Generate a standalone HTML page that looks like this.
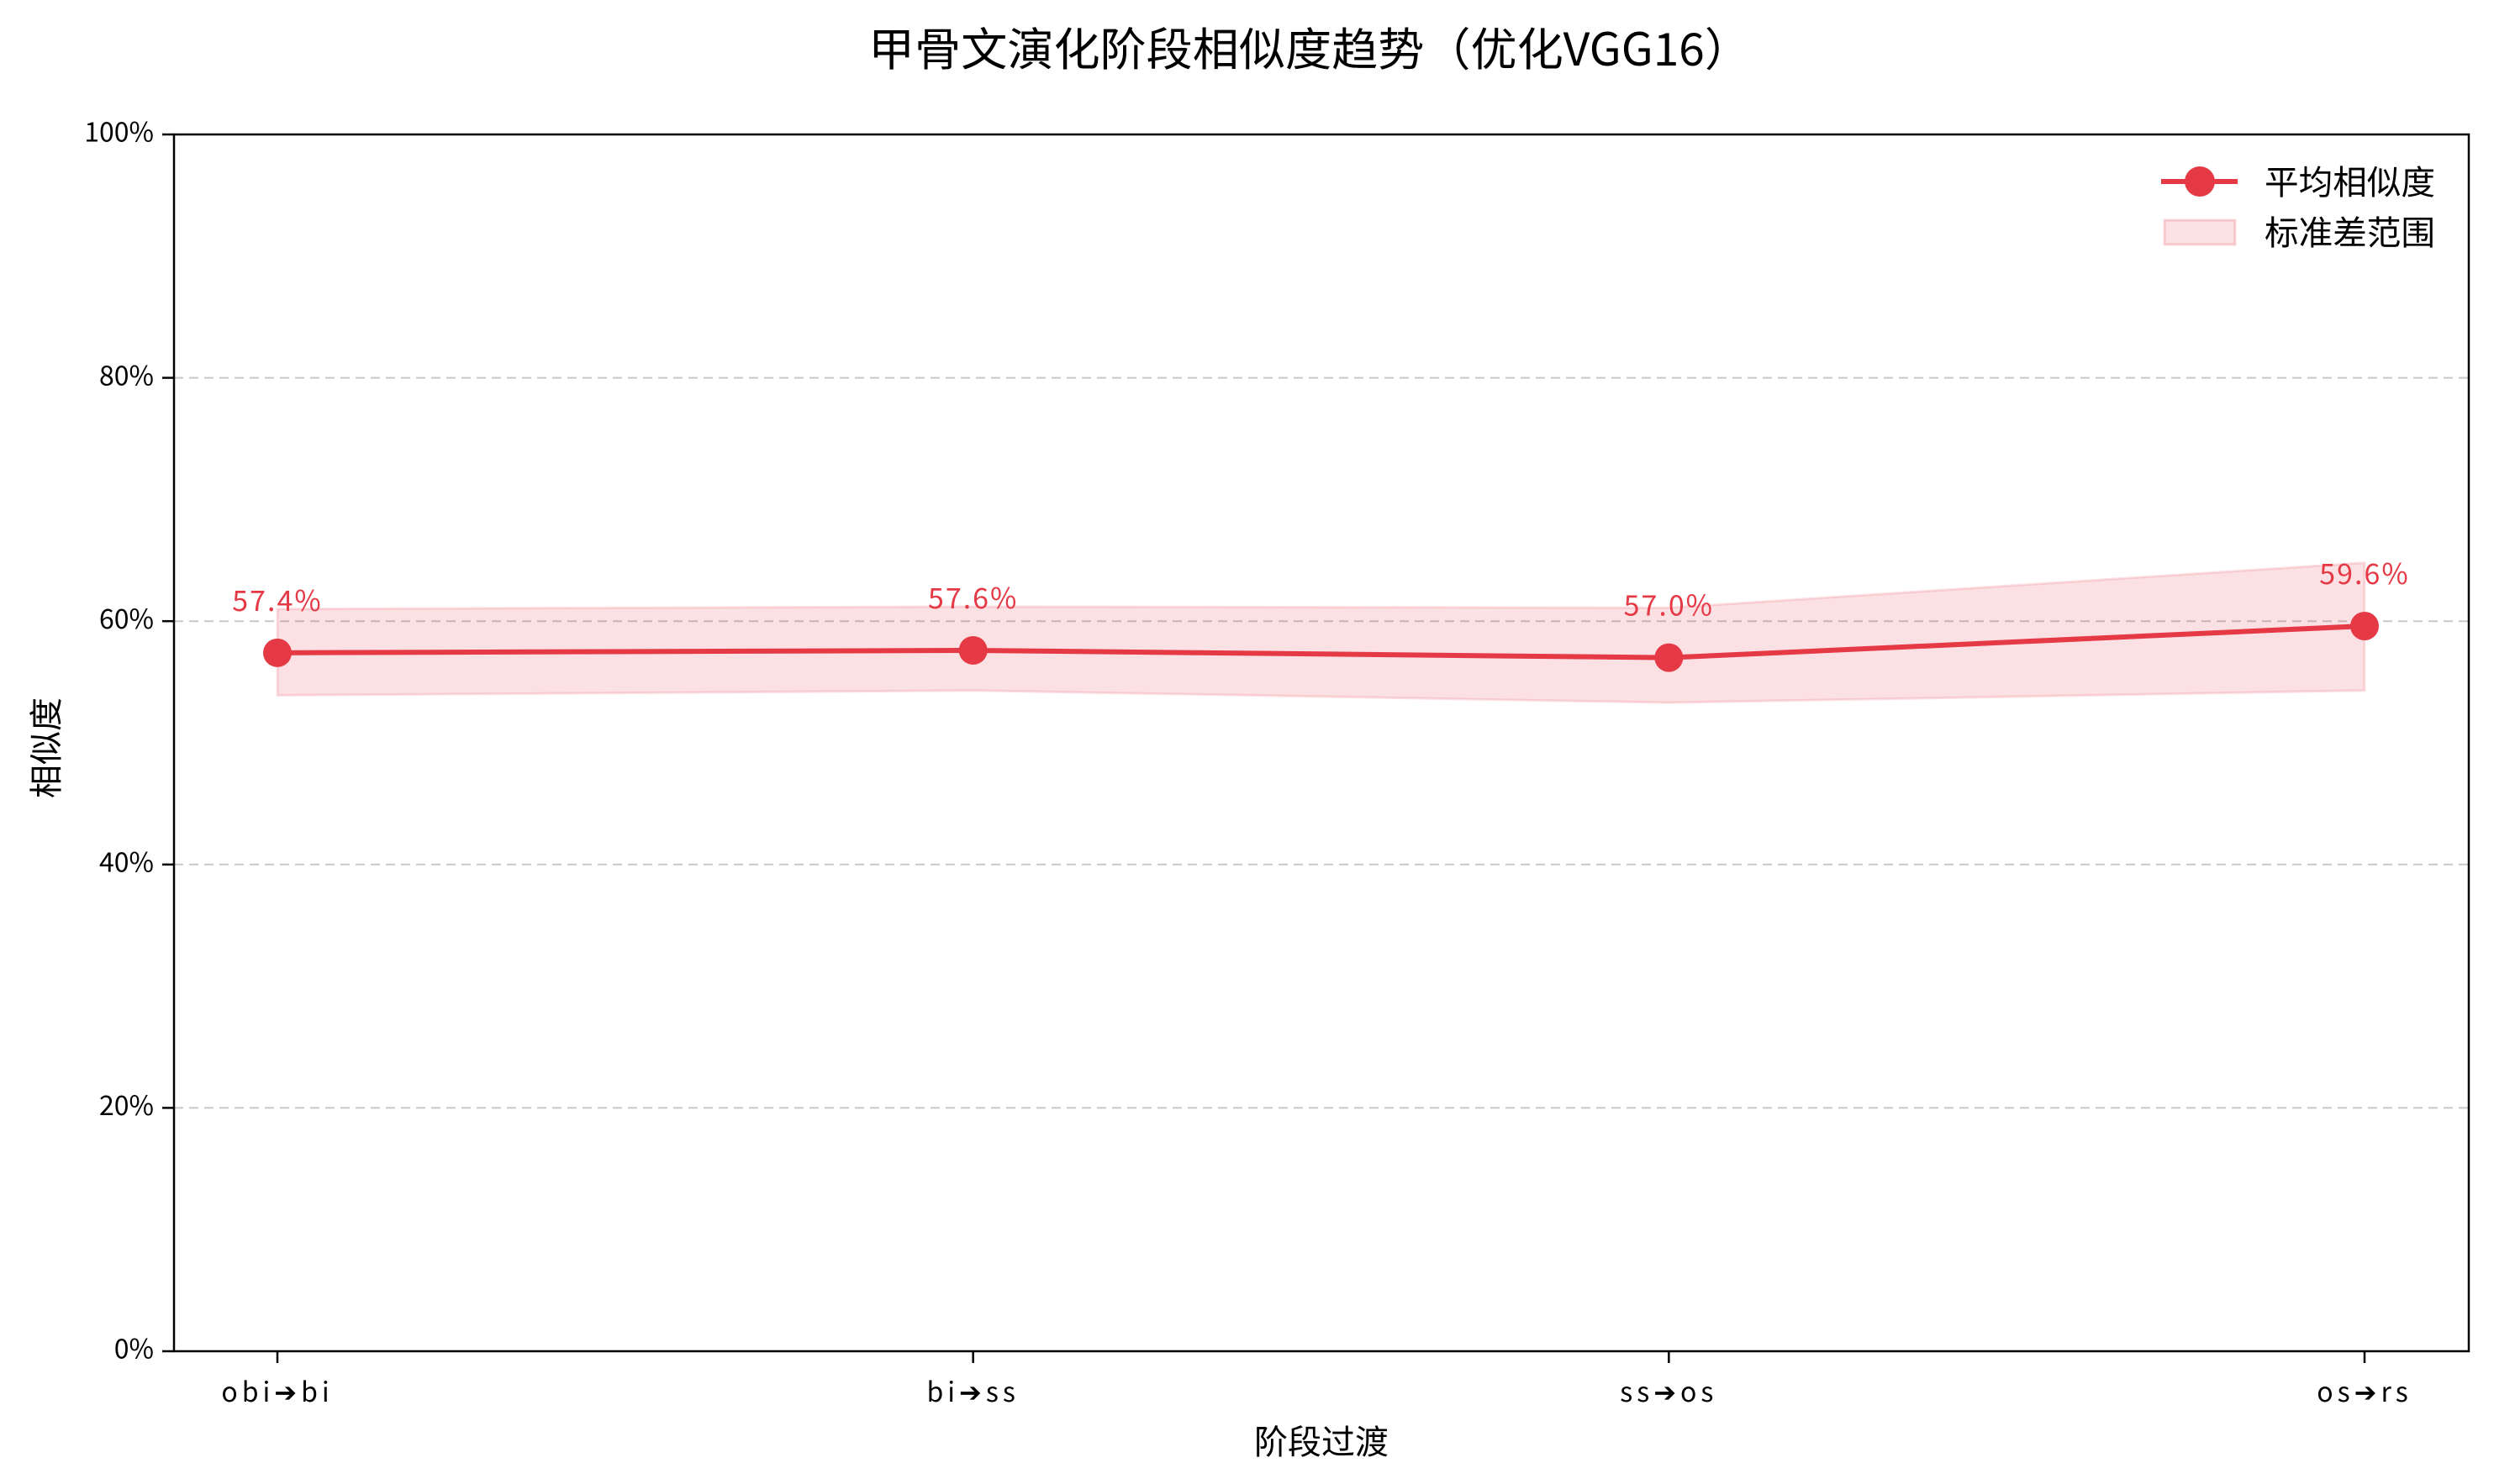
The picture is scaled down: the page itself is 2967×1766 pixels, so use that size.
<!DOCTYPE html>
<html><head><meta charset="utf-8"><style>
html,body{margin:0;padding:0;background:#fff;}
svg{display:block;font-family:"WenQuanYi Zen Hei","Noto Sans CJK SC","Liberation Sans",sans-serif;}
</style></head><body>
<svg id="chart" width="2967" height="1766" viewBox="0 0 2967 1766" xmlns="http://www.w3.org/2000/svg">
<rect width="2967" height="1766" fill="#fff"/>
<text x="1558" y="78" font-size="54" text-anchor="middle" textLength="1050" lengthAdjust="spacingAndGlyphs">甲骨文演化阶段相似度趋势（优化VGG16）</text>
<g id="grid"></g>
<g id="band"></g>
<g id="series"></g>
<g id="axes"></g>
<text transform="translate(58,890) rotate(-90)" font-size="40" text-anchor="middle" dominant-baseline="middle">相似度</text>
<text x="1572" y="1730" font-size="40" text-anchor="middle">阶段过渡</text>
<g>
  <line x1="2571" y1="216" x2="2662" y2="216" stroke="#e63946" stroke-width="6"/>
  <circle cx="2617" cy="216" r="18" fill="#e63946"/>
  <text x="2694" y="231" font-size="40" textLength="203" lengthAdjust="spacingAndGlyphs">平均相似度</text>
  <rect x="2575" y="262" width="84" height="29" fill="rgba(230,57,70,0.15)" stroke="rgba(230,57,70,0.2)" stroke-width="3"/>
  <text x="2694" y="291" font-size="40" textLength="203" lengthAdjust="spacingAndGlyphs">标准差范围</text>
</g>
</svg>
<script>
const categories = ["obi➔bi","bi➔ss","ss➔os","os➔rs"];
const meanValues = [57.4, 57.6, 57.0, 59.6];
const upperValues = [61.0, 61.2, 61.1, 64.8];
const lowerValues = [53.9, 54.3, 53.3, 54.3];
const yTicks = [0, 20, 40, 60, 80, 100];
const valueLabels = ["57.4%","57.6%","57.0%","59.6%"];

const NS = "http://www.w3.org/2000/svg";
const L = 207, R = 2937, T = 160, B = 1608;
const x0 = 330, xStep = (2813 - 330) / 3;
function xs(i){ return x0 + i * xStep; }
function ys(v){ return B - (v / 100) * (B - T); }
function mk(tag, attrs, parent){
  const e = document.createElementNS(NS, tag);
  for (const k in attrs) e.setAttribute(k, attrs[k]);
  parent.appendChild(e); return e;
}
const grid = document.getElementById('grid');
const axes = document.getElementById('axes');
const band = document.getElementById('band');
const series = document.getElementById('series');

yTicks.forEach(t => {
  const y = ys(t);
  if (t > 0 && t < 100) {
    const g = mk('line', {x1:L, x2:R, y1:y, y2:y, stroke:'#c8c8c8', 'stroke-width':2, 'stroke-dasharray':'11,7'}, grid);
    
    
  }
  const tk = mk('line', {x1:L-14, x2:L, y1:y, y2:y, stroke:'#000', 'stroke-width':2.5}, axes);
  
  
  const lb = mk('text', {x:L-24, y:y, 'font-size':32, 'text-anchor':'end', 'dominant-baseline':'middle'}, axes);
  lb.textContent = t + '%';
  
  
});
categories.forEach((c, i) => {
  const x = xs(i);
  const tk = mk('line', {x1:x, x2:x, y1:B, y2:B+14, stroke:'#000', 'stroke-width':2.5}, axes);
  
  
  const lb = mk('text', {x:x, y:1668, 'font-size':32, 'text-anchor':'middle', 'letter-spacing':'5'}, axes);
  lb.textContent = c;
  
  
});
const frame = mk('rect', {x:L, y:T, width:R-L, height:B-T, fill:'none', stroke:'#000', 'stroke-width':2.5}, axes);



let pts = upperValues.map((v,i) => xs(i)+','+ys(v));
for (let i = lowerValues.length-1; i >= 0; i--) pts.push(xs(i)+','+ys(lowerValues[i]));
const poly = mk('polygon', {points:pts.join(' '), fill:'rgba(230,57,70,0.15)', stroke:'rgba(230,57,70,0.15)', 'stroke-width':3}, band);



const line = mk('polyline', {points:meanValues.map((v,i)=>xs(i)+','+ys(v)).join(' '), fill:'none', stroke:'#e63946', 'stroke-width':6}, series);


meanValues.forEach((v, i) => {
  const c = mk('circle', {cx:xs(i), cy:ys(v), r:17, fill:'#e63946'}, series);
  
  
  const t = mk('text', {x:xs(i), y:ys(v)-50, 'font-size':34, fill:'#e63946', 'text-anchor':'middle', 'letter-spacing':'2'}, series);
  t.textContent = valueLabels[i];
  
  
});
</script>
</body></html>
